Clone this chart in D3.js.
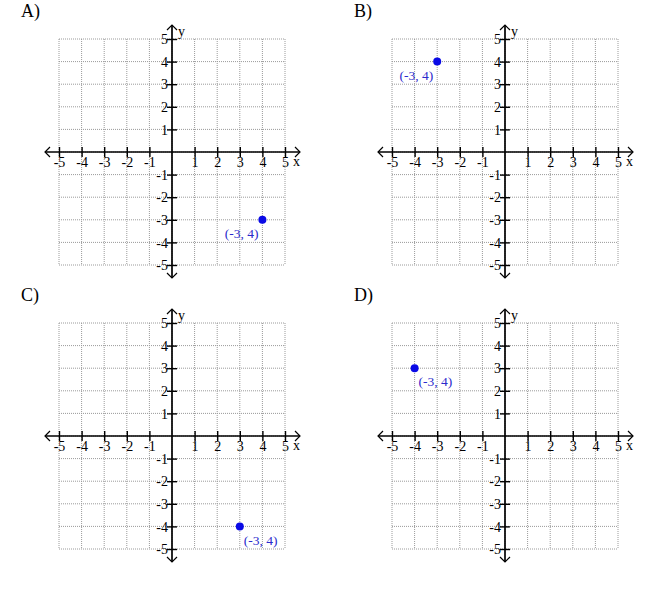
<!DOCTYPE html>
<html>
<head>
<meta charset="utf-8">
<script src="https://cdn.jsdelivr.net/npm/d3@7"></script>
<style>
  body { margin: 0; background: #fff; }
  svg { display: block; }
  .grid line { stroke: #9a9a9a; stroke-width: 1; stroke-dasharray: 1,1; }
  .tick text { font-family: "Liberation Serif", "Times New Roman", serif; font-size: 14px; fill: #000; }
</style>
</head>
<body>
<div id="chart"></div>
<script>
// panel letters and the plotted point in each
const PANEL_NAMES = ["A)", "B)", "C)", "D)"];
const POINT_X = [4, -3, 3, -4];
const POINT_Y = [-3, 4, -4, 3];
const POINT_LABELS = ["(-3, 4)", "(-3, 4)", "(-3, 4)", "(-3, 4)"];

// axis ticks
const TICKS = [-5, -4, -3, -2, -1, 0, 1, 2, 3, 4, 5];

const FRAME_WIDTH = 650;
const FRAME_HEIGHT = 593;
const GRID_SIZE = 226;

// where each panel's grid sits and where its point label goes
const PANEL_POS = [[59, 39], [392, 39], [59, 323], [392, 323]];
const LABEL_POS = [
  { dx: -4, dy: 18, anchor: "end" },
  { dx: -4, dy: 18, anchor: "end" },
  { dx: 4, dy: 19, anchor: "start" },
  { dx: 4, dy: 18, anchor: "start" }
];

const SVG = d3.select("#chart")
  .append("svg")
  .attr("width", FRAME_WIDTH)
  .attr("height", FRAME_HEIGHT);

const X_SCALE = d3.scaleLinear().domain([-5, 5]).range([0, GRID_SIZE]);
const Y_SCALE = d3.scaleLinear().domain([-5, 5]).range([GRID_SIZE, 0]);

const SERIF = "'Liberation Serif', 'Times New Roman', serif";

function buildPanel(i) {
  const g = SVG.append("g")
    .attr("transform", "translate(" + PANEL_POS[i][0] + "," + PANEL_POS[i][1] + ")");

  // panel letter
  g.append("text")
    .attr("x", -38)
    .attr("y", -22)
    .attr("font-family", SERIF)
    .attr("font-size", "18px")
    .text(PANEL_NAMES[i]);

  // dotted grid
  const grid = g.append("g").attr("class", "grid");
  grid.selectAll(".v")
    .data(TICKS)
    .enter()
    .append("line")
    .attr("x1", (d) => X_SCALE(d))
    .attr("x2", (d) => X_SCALE(d))
    .attr("y1", 0)
    .attr("y2", GRID_SIZE);
  grid.selectAll(".h")
    .data(TICKS)
    .enter()
    .append("line")
    .attr("y1", (d) => Y_SCALE(d))
    .attr("y2", (d) => Y_SCALE(d))
    .attr("x1", 0)
    .attr("x2", GRID_SIZE);

  const x0 = X_SCALE(0);
  const y0 = Y_SCALE(0);

  // x axis
  const xAxis = g.append("g")
    .attr("transform", "translate(0," + y0 + ")")
    .call(d3.axisBottom(X_SCALE).tickValues(TICKS.filter((d) => d !== 0)).tickSize(5).tickFormat(d3.format("d")));
  xAxis.select(".domain").remove();
  xAxis.attr("font-family", null).attr("font-size", null);
  xAxis.selectAll(".tick line").attr("y1", -5).attr("y2", 5).attr("stroke", "#000").attr("stroke-width", 1.4);
  xAxis.selectAll(".tick text").attr("y", 15).attr("dy", 0).text((d) => String(d));

  // y axis
  const yAxis = g.append("g")
    .attr("transform", "translate(" + x0 + ",0)")
    .call(d3.axisLeft(Y_SCALE).tickValues(TICKS.filter((d) => d !== 0)).tickSize(5).tickFormat(d3.format("d")));
  yAxis.select(".domain").remove();
  yAxis.attr("font-family", null).attr("font-size", null);
  yAxis.selectAll(".tick line").attr("x1", -5).attr("x2", 5).attr("stroke", "#000").attr("stroke-width", 1.4);
  yAxis.selectAll(".tick text").attr("x", -4).attr("dy", "0.34em").text((d) => String(d));

  // axis lines with open arrow heads
  const axisLines = g.append("g")
    .attr("stroke", "#000")
    .attr("stroke-width", 1.7)
    .attr("fill", "none");
  const xl = -14, xr = GRID_SIZE + 15, yt = -14, yb = GRID_SIZE + 13;
  axisLines.append("line").attr("x1", xl).attr("x2", xr).attr("y1", y0).attr("y2", y0);
  axisLines.append("line").attr("x1", x0).attr("x2", x0).attr("y1", yt).attr("y2", yb);
  axisLines.append("path").attr("stroke-width", 1.2)
    .attr("d", "M" + (xl + 5) + "," + (y0 - 5) + "L" + xl + "," + y0 + "L" + (xl + 5) + "," + (y0 + 5));
  axisLines.append("path").attr("stroke-width", 1.2)
    .attr("d", "M" + (xr - 5) + "," + (y0 - 5) + "L" + xr + "," + y0 + "L" + (xr - 5) + "," + (y0 + 5));
  axisLines.append("path").attr("stroke-width", 1.2)
    .attr("d", "M" + (x0 - 5) + "," + (yt + 5) + "L" + x0 + "," + yt + "L" + (x0 + 5) + "," + (yt + 5));
  axisLines.append("path").attr("stroke-width", 1.2)
    .attr("d", "M" + (x0 - 5) + "," + (yb - 5) + "L" + x0 + "," + yb + "L" + (x0 + 5) + "," + (yb - 5));

  // axis names
  g.append("text")
    .attr("x", X_SCALE(5) + 8)
    .attr("y", y0 + 14)
    .attr("font-family", SERIF)
    .attr("font-size", "14px")
    .text("x");
  g.append("text")
    .attr("x", x0 + 6)
    .attr("y", Y_SCALE(5) - 3)
    .attr("font-family", SERIF)
    .attr("font-size", "14px")
    .text("y");

  // the point and its label
  const px = X_SCALE(POINT_X[i]);
  const py = Y_SCALE(POINT_Y[i]);
  g.append("circle")
    .attr("cx", px)
    .attr("cy", py)
    .attr("r", 4)
    .style("fill", "#0a0ae6");
  g.append("text")
    .attr("x", px + LABEL_POS[i].dx)
    .attr("y", py + LABEL_POS[i].dy)
    .attr("text-anchor", LABEL_POS[i].anchor)
    .attr("font-family", SERIF)
    .attr("font-size", "13.5px")
    .style("fill", "#2a2acc")
    .text(POINT_LABELS[i]);
}

PANEL_NAMES.forEach((d, i) => buildPanel(i));
</script>
</body>
</html>
